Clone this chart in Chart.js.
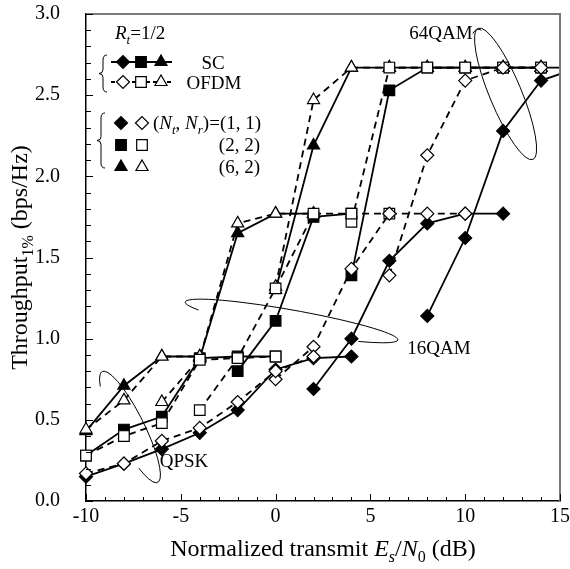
<!DOCTYPE html>
<html>
<head>
<meta charset="utf-8">
<script src="https://cdn.jsdelivr.net/npm/chart.js@4.4.0/dist/chart.umd.min.js"></script>
<style>
  html, body { margin: 0; padding: 0; background: #fff; }
  #wrap { width: 570px; height: 569px; position: relative; }
</style>
</head>
<body>
<div id="wrap"><canvas id="chart"></canvas></div>
<script>
// Es/N0 grid (dB) shared by every curve
const snrDb = [-10, -8, -6, -4, -2, 0, 2, 4, 6, 8, 10, 12, 14, 16];

// QPSK
const qpskSc11   = [0.15, 0.23, 0.32, 0.42, 0.56, 0.81, 0.88, 0.89, null, null, null, null, null, null];
const qpskOfdm11 = [0.17, 0.23, 0.37, 0.45, 0.61, 0.80, 0.89, null, null, null, null, null, null, null];
const qpskSc22   = [0.28, 0.44, 0.52, 0.88, 0.89, 0.89, null, null, null, null, null, null, null, null];
const qpskOfdm22 = [0.28, 0.40, 0.48, 0.87, 0.88, 0.89, null, null, null, null, null, null, null, null];
const qpskSc62   = [0.43, 0.71, 0.89, 0.89, null, null, null, null, null, null, null, null, null, null];
const qpskOfdm62 = [0.44, 0.62, 0.89, 0.89, null, null, null, null, null, null, null, null, null, null];

// 16QAM
const qam16Sc11   = [null, null, null, null, null, null, 0.69, 1.00, 1.48, 1.71, 1.77, 1.77, null, null];
const qam16Ofdm11 = [null, null, null, null, null, 0.75, 0.95, 1.43, 1.77, 1.77, 1.77, null, null, null];
const qam16Sc22   = [null, null, null, null, 0.80, 1.11, 1.75, 1.77, null, null, null, null, null, null];
const qam16Ofdm22 = [null, null, null, 0.56, 0.88, 1.31, 1.77, 1.77, 1.77, null, null, null, null, null];
const qam16Sc62   = [null, null, null, 0.88, 1.65, 1.77, 1.77, null, null, null, null, null, null, null];
const qam16Ofdm62 = [null, null, 0.61, 0.88, 1.71, 1.77, 1.77, null, null, null, null, null, null, null];

// 64QAM
const qam64Sc11   = [null, null, null, null, null, null, null, null, null, 1.14, 1.62, 2.28, 2.59, 2.67];
const qam64Ofdm11 = [null, null, null, null, null, null, null, null, 1.39, 2.13, 2.59, 2.67, 2.67, null];
const qam64Sc22   = [null, null, null, null, null, null, null, 1.39, 2.53, 2.67, 2.67, 2.67, 2.67, 2.67];
const qam64Ofdm22 = [null, null, null, null, null, null, null, 1.72, 2.67, 2.67, 2.67, 2.67, 2.67, null];
const qam64Sc62   = [null, null, null, null, null, 1.30, 2.19, 2.67, 2.67, 2.67, 2.67, 2.67, 2.67, null];
const qam64Ofdm62 = [null, null, null, null, null, 1.32, 2.47, 2.67, 2.67, 2.67, 2.67, 2.67, 2.67, null];

const xTicks = [-10, -5, 0, 5, 10, 15];
const yTicks = [0.0, 0.5, 1.0, 1.5, 2.0, 2.5, 3.0];

const FONT = '"Liberation Serif", "Times New Roman", serif';
const markerSize = { rectRot: 6.5, rect: 7.5, triangle: 7 };

function toPoints(vals) {
    return snrDb.map((x, i) => ({ x: x, y: vals[i] })).filter(p => p.y !== null);
}

function curve(vals, style, open) {
    return {
        data: toPoints(vals),
        borderColor: '#000',
        borderWidth: 1.8,
        borderDash: open ? [7, 5] : [],
        pointStyle: style,
        pointRadius: markerSize[style],
        pointBackgroundColor: open ? '#fff' : '#000',
        pointBorderColor: '#000',
        pointBorderWidth: 1.2,
        tension: 0,
        clip: { left: 10, top: 10, right: 0, bottom: 10 }
    };
}

// OFDM (open markers) first so they sit on top
const datasets = [
    curve(qpskOfdm11, 'rectRot', true),
    curve(qpskOfdm22, 'rect', true),
    curve(qpskOfdm62, 'triangle', true),
    curve(qam16Ofdm11, 'rectRot', true),
    curve(qam16Ofdm22, 'rect', true),
    curve(qam16Ofdm62, 'triangle', true),
    curve(qam64Ofdm11, 'rectRot', true),
    curve(qam64Ofdm22, 'rect', true),
    curve(qam64Ofdm62, 'triangle', true),
    curve(qpskSc11, 'rectRot', false),
    curve(qpskSc22, 'rect', false),
    curve(qpskSc62, 'triangle', false),
    curve(qam16Sc11, 'rectRot', false),
    curve(qam16Sc22, 'rect', false),
    curve(qam16Sc62, 'triangle', false),
    curve(qam64Sc11, 'rectRot', false),
    curve(qam64Sc22, 'rect', false),
    curve(qam64Sc62, 'triangle', false)
];

// small text helpers for italics / subscripts
function fontFor(p, size) {
    return (p.it ? 'italic ' : '') + Math.round(p.sub ? size * 0.68 : size) + 'px ' + FONT;
}
function drawRich(ctx, parts, x, y, size, align) {
    let w = 0;
    parts.forEach(p => { ctx.font = fontFor(p, size); w += ctx.measureText(p.t).width; });
    let cx = align === 'center' ? x - w / 2 : (align === 'right' ? x - w : x);
    ctx.textAlign = 'left';
    ctx.textBaseline = 'alphabetic';
    parts.forEach(p => {
        ctx.font = fontFor(p, size);
        ctx.fillText(p.t, cx, p.sub ? y + size * 0.25 : y);
        cx += ctx.measureText(p.t).width;
    });
}

function marker(ctx, style, x, y, open) {
    const r = markerSize[style];
    ctx.beginPath();
    if (style === 'rectRot') {
        ctx.moveTo(x - r, y); ctx.lineTo(x, y - r); ctx.lineTo(x + r, y); ctx.lineTo(x, y + r);
    } else if (style === 'rect') {
        const s = r * Math.SQRT1_2;
        ctx.rect(x - s, y - s, 2 * s, 2 * s);
    } else {
        ctx.moveTo(x, y - r);
        ctx.lineTo(x + r * Math.sin(2 * Math.PI / 3), y - r * Math.cos(2 * Math.PI / 3));
        ctx.lineTo(x + r * Math.sin(4 * Math.PI / 3), y - r * Math.cos(4 * Math.PI / 3));
    }
    ctx.closePath();
    ctx.fillStyle = open ? '#fff' : '#000';
    ctx.fill();
    ctx.lineWidth = 1.2;
    ctx.strokeStyle = '#000';
    ctx.stroke();
}

function brace(ctx, x, y1, y2) {
    const ym = (y1 + y2) / 2, w = 4;
    ctx.beginPath();
    ctx.moveTo(x + w, y1);
    ctx.quadraticCurveTo(x, y1, x, y1 + 5);
    ctx.lineTo(x, ym - 4);
    ctx.quadraticCurveTo(x, ym, x - w, ym);
    ctx.quadraticCurveTo(x, ym, x, ym + 4);
    ctx.lineTo(x, y2 - 5);
    ctx.quadraticCurveTo(x, y2, x + w, y2);
    ctx.stroke();
}

// ellipses around each modulation group, centre in data units, size in px
const groupRings = [
    { cx: -7.68, cy: 0.456, rx: 62, ry: 14, rot: 63.4, from: 143, to: 409 },
    { cx: 0.84, cy: 1.109, rx: 108, ry: 11, rot: 10.1, from: 150, to: 410 },
    { cx: 12.13, cy: 2.508, rx: 71, ry: 16, rot: 67.4, from: 0, to: 360 }
];
const groupLabels = [
    { text: 'QPSK', x: -4.83, y: 0.253 },
    { text: '16QAM', x: 8.62, y: 0.949 },
    { text: '64QAM', x: 8.72, y: 2.89 }
];

const decorations = {
    id: 'decorations',
    afterDraw(chart) {
        const ctx = chart.ctx;
        const ca = chart.chartArea;
        const xs = chart.scales.x, ys = chart.scales.y;
        ctx.save();

        // top and right frame
        ctx.strokeStyle = '#7a7a7a';
        ctx.lineWidth = 2;
        ctx.beginPath();
        ctx.moveTo(ca.left, ca.top); ctx.lineTo(ca.right, ca.top); ctx.lineTo(ca.right, ca.bottom);
        ctx.stroke();

        // inward ticks
        ctx.strokeStyle = '#000';
        ctx.lineWidth = 1;
        ctx.beginPath();
        for (let v = -10; v <= 15; v++) {
            const px = Math.round(xs.getPixelForValue(v)) + 0.5;
            const len = v % 5 === 0 ? 7 : 4;
            ctx.moveTo(px, ca.bottom); ctx.lineTo(px, ca.bottom - len);
        }
        for (let i = 0; i <= 30; i++) {
            const py = Math.round(ys.getPixelForValue(i / 10)) + 0.5;
            const len = i % 5 === 0 ? 7 : 5;
            ctx.moveTo(ca.left, py); ctx.lineTo(ca.left + len, py);
        }
        ctx.stroke();

        // group ellipses
        ctx.lineWidth = 1;
        groupRings.forEach(g => {
            ctx.beginPath();
            ctx.ellipse(xs.getPixelForValue(g.cx), ys.getPixelForValue(g.cy), g.rx, g.ry,
                g.rot * Math.PI / 180, g.from * Math.PI / 180, g.to * Math.PI / 180);
            ctx.stroke();
        });
        ctx.fillStyle = '#000';
        groupLabels.forEach(l => {
            drawRich(ctx, [{ t: l.text }], xs.getPixelForValue(l.x), ys.getPixelForValue(l.y) + 7, 19, 'center');
        });
        // leader from 64QAM label to its ring
        ctx.beginPath();
        ctx.moveTo(xs.getPixelForValue(10.4), ys.getPixelForValue(2.88));
        ctx.quadraticCurveTo(xs.getPixelForValue(10.6), ys.getPixelForValue(2.92),
            xs.getPixelForValue(10.85), ys.getPixelForValue(2.9));
        ctx.stroke();

        // legend
        const L = ca.left, T = ca.top;
        drawRich(ctx, [{ t: 'R', it: true }, { t: 't', it: true, sub: true }, { t: '=1/2' }], L + 29, T + 25, 19, 'left');
        ctx.lineWidth = 1;
        brace(ctx, L + 17, T + 41, T + 78);
        brace(ctx, L + 15, T + 99, T + 154);

        const lx = [L + 37, L + 55, L + 75];
        const styles = ['rectRot', 'rect', 'triangle'];
        ctx.lineWidth = 1.8;
        ctx.strokeStyle = '#000';
        ctx.setLineDash([]);
        ctx.beginPath(); ctx.moveTo(L + 25, T + 48); ctx.lineTo(L + 86, T + 48); ctx.stroke();
        styles.forEach((s, i) => marker(ctx, s, lx[i], T + 48, false));
        ctx.lineWidth = 1.8;
        ctx.setLineDash([4, 3]);
        ctx.beginPath(); ctx.moveTo(L + 25, T + 68); ctx.lineTo(L + 86, T + 68); ctx.stroke();
        ctx.setLineDash([]);
        styles.forEach((s, i) => marker(ctx, s, lx[i], T + 68, true));
        ctx.fillStyle = '#000';
        drawRich(ctx, [{ t: 'SC' }], L + 127, T + 55, 19, 'center');
        drawRich(ctx, [{ t: 'OFDM' }], L + 128, T + 75, 19, 'center');

        const rows = [T + 109, T + 131, T + 153];
        styles.forEach((s, i) => {
            marker(ctx, s, L + 35, rows[i], false);
            marker(ctx, s, L + 56, rows[i], true);
        });
        ctx.fillStyle = '#000';
        drawRich(ctx, [{ t: '(' }, { t: 'N', it: true }, { t: 't', it: true, sub: true }, { t: ', ' },
            { t: 'N', it: true }, { t: 'r', it: true, sub: true }, { t: ')=(1, 1)' }], L + 67, rows[0] + 6, 19, 'left');
        drawRich(ctx, [{ t: '(2, 2)' }], L + 174, rows[1] + 6, 19, 'right');
        drawRich(ctx, [{ t: '(6, 2)' }], L + 174, rows[2] + 6, 19, 'right');

        // axis titles
        const midX = (ca.left + ca.right) / 2;
        drawRich(ctx, [{ t: 'Normalized transmit ' }, { t: 'E', it: true }, { t: 's', it: true, sub: true },
            { t: '/' }, { t: 'N', it: true }, { t: '0', sub: true }, { t: ' (dB)' }], midX, ca.bottom + 55, 24, 'center');
        ctx.translate(27, (ca.top + ca.bottom) / 2);
        ctx.rotate(-Math.PI / 2);
        drawRich(ctx, [{ t: 'Throughput' }, { t: '1%', sub: true }, { t: ' (bps/Hz)' }], 0, 0, 24, 'center');
        ctx.restore();
    }
};

Chart.defaults.font.family = FONT;
Chart.defaults.color = '#000';

new Chart(document.getElementById('chart'), {
    type: 'line',
    data: { datasets: datasets },
    options: {
        responsive: true,
        maintainAspectRatio: false,
        animation: false,
        layout: { padding: { left: 0, top: 14, right: 10, bottom: 0 } },
        plugins: { legend: { display: false }, tooltip: { enabled: false } },
        scales: {
            x: {
                type: 'linear',
                min: -10,
                max: 15,
                afterFit: s => { s.height = 68; s.paddingLeft = 0; s.paddingRight = 0; },
                afterBuildTicks: s => { s.ticks = xTicks.map(v => ({ value: v })); },
                grid: { display: false, drawTicks: false },
                border: { display: true, color: '#000', width: 1.5 },
                ticks: { padding: 4, maxRotation: 0, font: { size: 20 }, color: '#000' }
            },
            y: {
                min: 0,
                max: 3,
                afterFit: s => { s.width = 86; s.paddingTop = 0; s.paddingBottom = 0; },
                afterBuildTicks: s => { s.ticks = yTicks.map(v => ({ value: v })); },
                grid: { display: false, drawTicks: false },
                border: { display: true, color: '#000', width: 1.5 },
                ticks: { padding: 26, font: { size: 20 }, color: '#000', callback: v => Number(v).toFixed(1) }
            }
        }
    },
    plugins: [decorations]
});
</script>
</body>
</html>
